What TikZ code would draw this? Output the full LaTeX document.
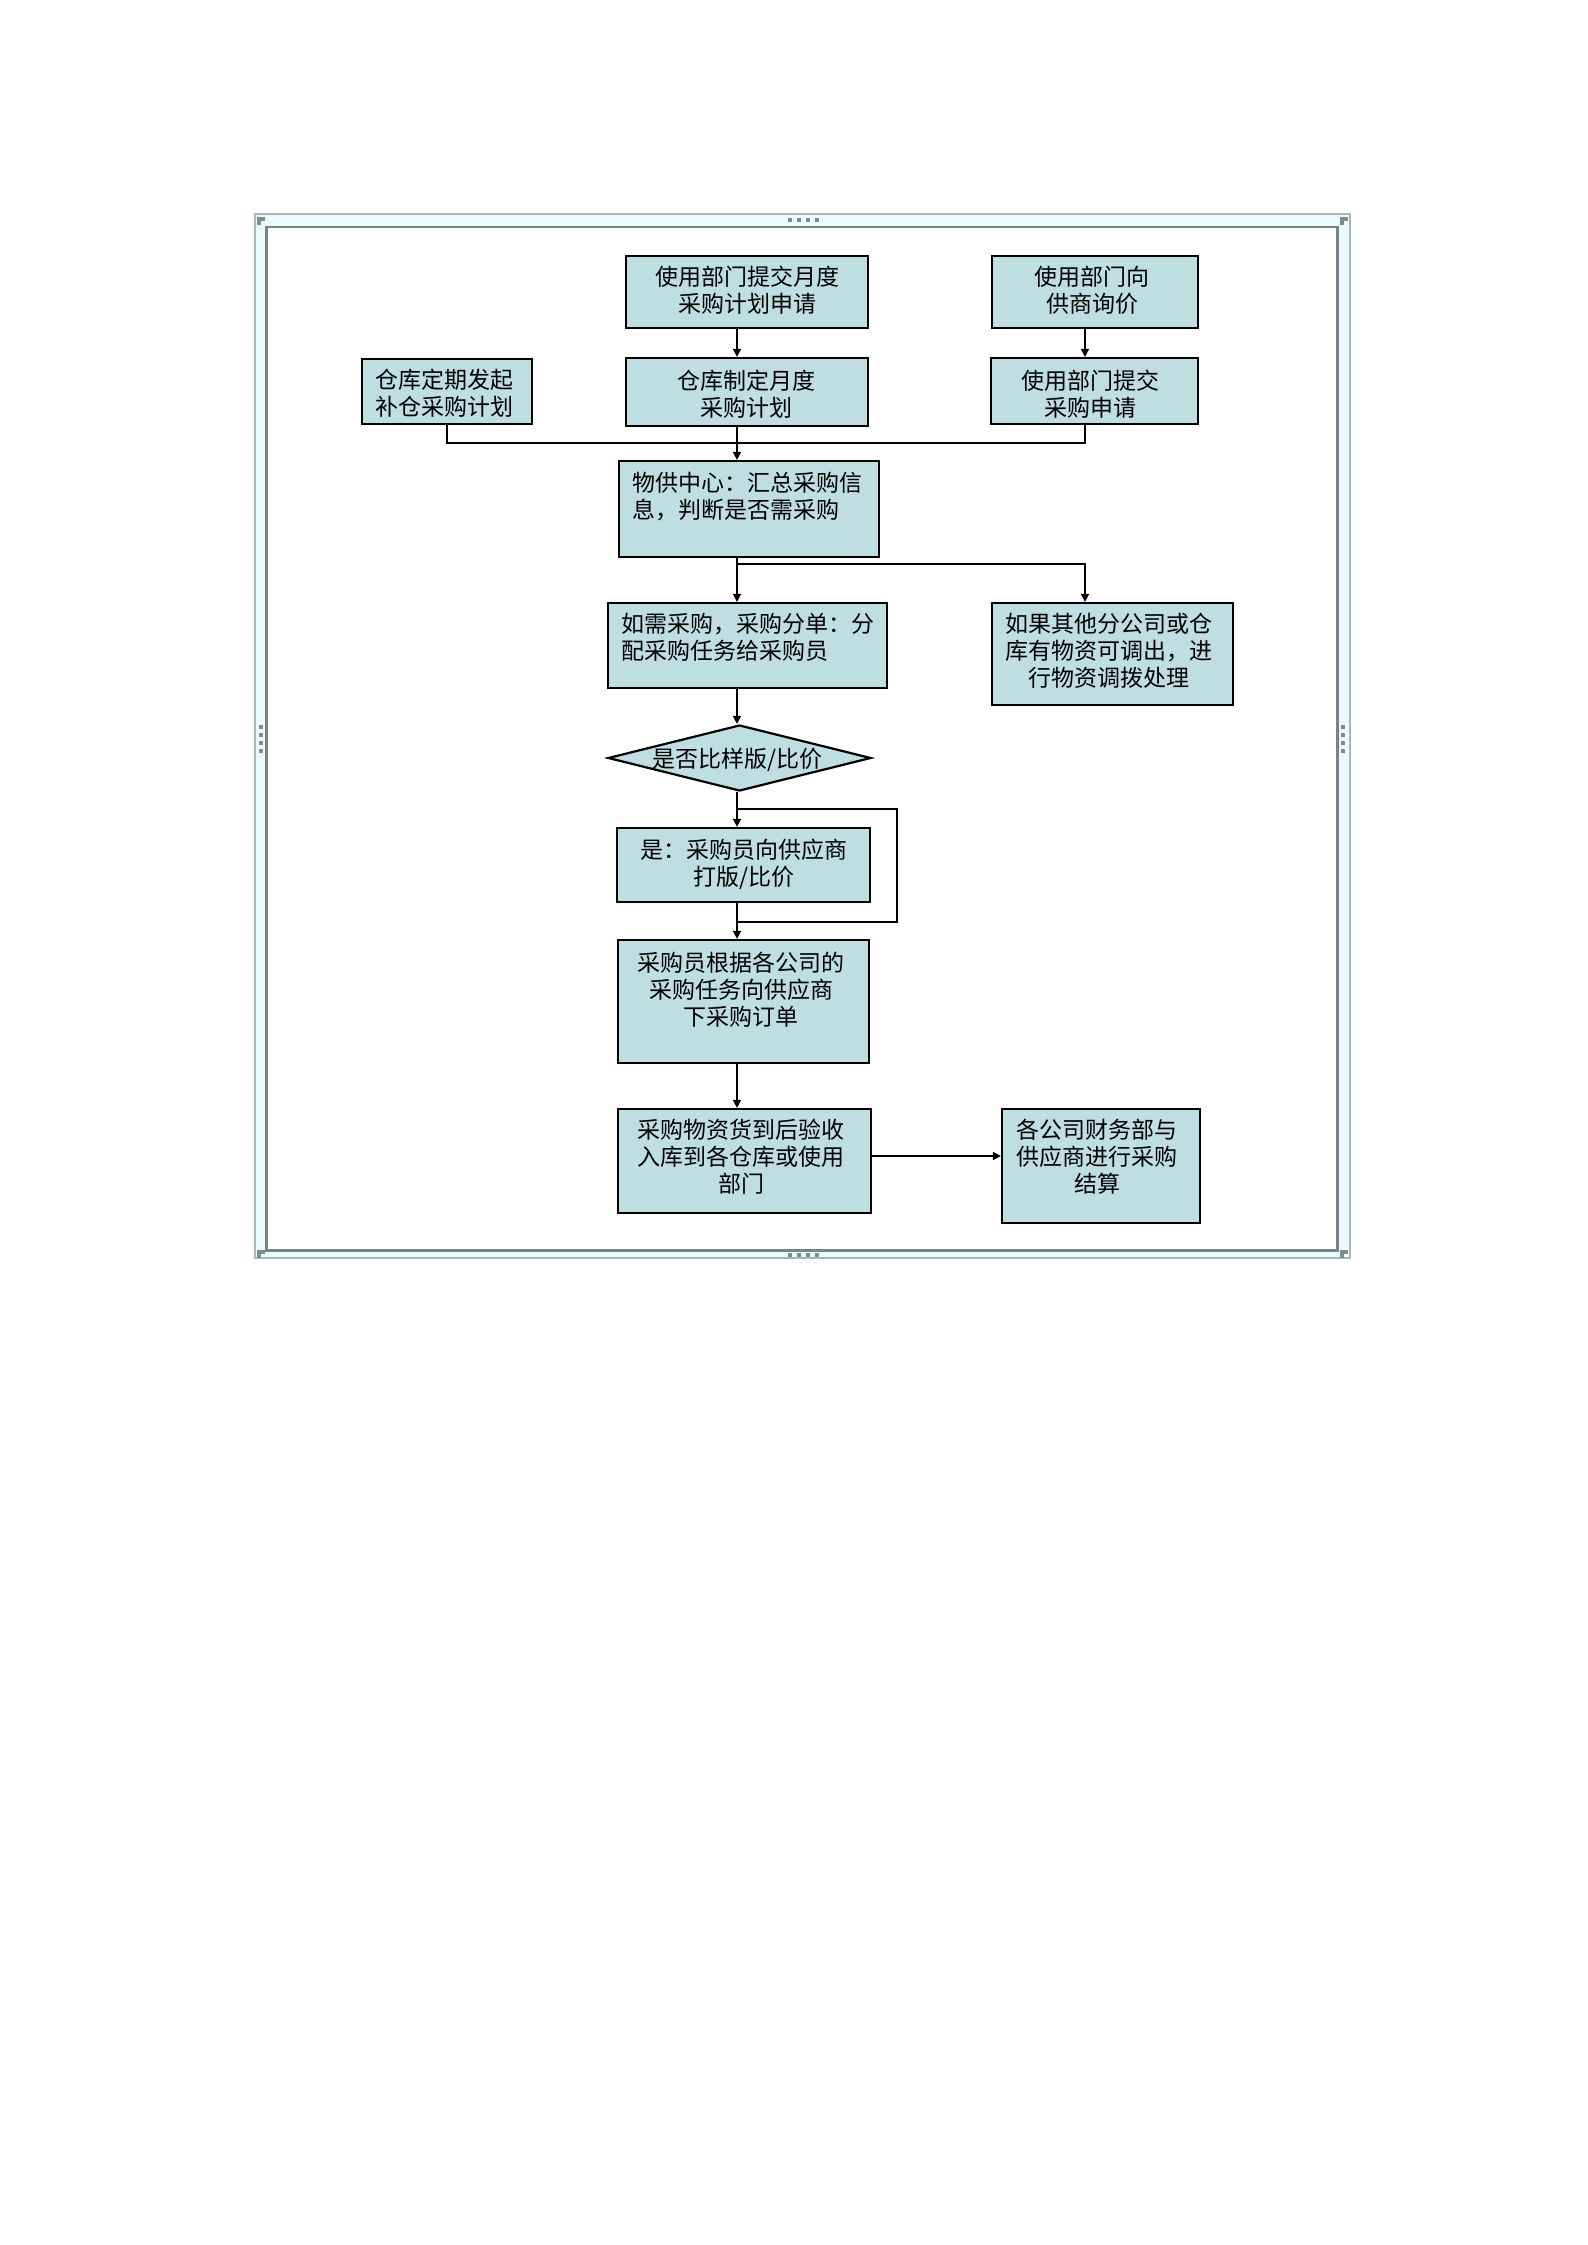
\documentclass[tikz,border=0pt]{standalone}
\usepackage{fontspec}
\newfontfamily\cjk{Noto Sans CJK SC}
\usetikzlibrary{arrows.meta,shapes.geometric}
\definecolor{boxfill}{RGB}{190,222,226}
\definecolor{bandfill}{RGB}{234,251,253}
\definecolor{framedark}{RGB}{122,132,132}
\definecolor{framelight}{RGB}{168,184,184}
\definecolor{handlecol}{RGB}{130,138,140}
\begin{document}
\begin{tikzpicture}[x=1pt,y=-1pt,
  box/.style={draw=black,line width=2.2pt,fill=boxfill,inner sep=0pt},
  txt/.style={font=\cjk\fontsize{23}{27}\selectfont,align=center,inner sep=0pt},
  txtl/.style={font=\cjk\fontsize{23}{27}\selectfont,align=left,inner sep=0pt,anchor=west},
  conn/.style={line width=1.5pt,black},
  arr/.style={conn,-{Triangle[width=8pt,length=8pt]}},
  hdot/.style={fill=handlecol,inner sep=0pt,minimum size=3.5pt}
]
\useasboundingbox (0,0) rectangle (1587,2245);
\fill[white] (0,0) rectangle (1587,2245);
% frame
\fill[bandfill, even odd rule] (255,214) rectangle (1350,1258) (266,227) rectangle (1338,1250);
\draw[framelight, line width=1.2pt] (255,214) rectangle (1350,1258);
\draw[framedark, line width=2.5pt] (266.5,227) rectangle (1337.5,1250.5);
\foreach \i in {0,1,2,3} {
  \node[hdot] (ht\i) at (790+9*\i,220) {};
  \node[hdot] (hb\i) at (790+9*\i,1255) {};
  \node[hdot] (hl\i) at (261,727+8*\i) {};
  \node[hdot] (hr\i) at (1343,727+8*\i) {};
}
\foreach \cx/\cy/\k in {261/221/a,1344/221/b,261/1254/c,1344/1254/d} {
  \node[hdot] (c1\k) at (\cx-2,\cy-2) {};
  \node[hdot] (c2\k) at (\cx+2,\cy-2) {};
  \node[hdot] (c3\k) at (\cx-2,\cy+2) {};
}
% boxes
\node[box,minimum width=242,minimum height=72] (B1) at (747,292) {};
\node[box,minimum width=206,minimum height=72] (B2) at (1095,292) {};
\node[box,minimum width=170,minimum height=65] (B3) at (447,391.5) {};
\node[box,minimum width=242,minimum height=68] (B4) at (747,392) {};
\node[box,minimum width=207,minimum height=66] (B5) at (1094.5,391) {};
\node[box,minimum width=260,minimum height=96] (B6) at (749,509) {};
\node[box,minimum width=279,minimum height=85] (B7) at (747.5,645.5) {};
\node[box,minimum width=241,minimum height=102] (B8) at (1112.5,654) {};
\node[box,shape=diamond,minimum width=263,minimum height=66] (D) at (739.5,758) {};
\node[box,minimum width=253,minimum height=74] (B10) at (743.5,865) {};
\node[box,minimum width=251,minimum height=123] (B11) at (743.5,1001.5) {};
\node[box,minimum width=253,minimum height=104] (B12) at (744.5,1161) {};
\node[box,minimum width=198,minimum height=114] (B13) at (1101,1166) {};
% texts
\node[txt] (T1) at (747,290) {使用部门提交月度\\采购计划申请};
\node[txt] (T2) at (1092,290) {使用部门向\\供商询价};
\node[txt] (T3) at (444,393) {仓库定期发起\\补仓采购计划};
\node[txt] (T4) at (746,394) {仓库制定月度\\采购计划};
\node[txt] (T5) at (1090,394) {使用部门提交\\采购申请};
\node[txtl] (T6) at (632,497) {物供中心：汇总采购信\\息，判断是否需采购};
\node[txtl] (T7) at (621,637) {如需采购，采购分单：分\\配采购任务给采购员};
\node[txt] (T8) at (1109,651) {如果其他分公司或仓\\库有物资可调出，进\\行物资调拨处理};
\node[txt] (Dt) at (737,760) {是否比样版/比价};
\node[txt] (T10) at (744,864) {是：采购员向供应商\\打版/比价};
\node[txt] (T11) at (741,990) {采购员根据各公司的\\采购任务向供应商\\下采购订单};
\node[txt] (T12) at (741,1157) {采购物资货到后验收\\入库到各仓库或使用\\部门};
\node[txt] (T13) at (1097,1157) {各公司财务部与\\供应商进行采购\\结算};
% connectors
\coordinate (mx) at (737,0);
\coordinate (rx) at (1085,0);
\coordinate (J1) at (737,443);
\coordinate (J2) at (737,564);
\coordinate (L1) at (737,809);
\coordinate (L2) at (897,809);
\coordinate (L3) at (897,922);
\coordinate (L4) at (737,922);
\coordinate (ay) at (0,1156);
\draw[arr] (B1.south -| mx) -- (B4.north -| mx);
\draw[arr] (B2.south -| rx) -- (B5.north -| rx);
\draw[conn] (B3.south) |- (J1);
\draw[conn] (B5.south -| rx) |- (J1);
\draw[arr] (B4.south -| mx) -- (B6.north -| mx);
\draw[arr] (B6.south -| mx) -- (B7.north -| mx);
\draw[arr] (J2) -| (B8.north -| rx);
\draw[arr] (B7.south -| mx) -- (D.north -| mx);
\draw[arr] (D.south -| mx) -- (B10.north -| mx);
\draw[conn] (L1) -- (L2) -- (L3) -- (L4);
\draw[arr] (B10.south -| mx) -- (B11.north -| mx);
\draw[arr] (B11.south -| mx) -- (B12.north -| mx);
\draw[arr] (B12.east |- ay) -- (B13.west |- ay);
\end{tikzpicture}
\end{document}
